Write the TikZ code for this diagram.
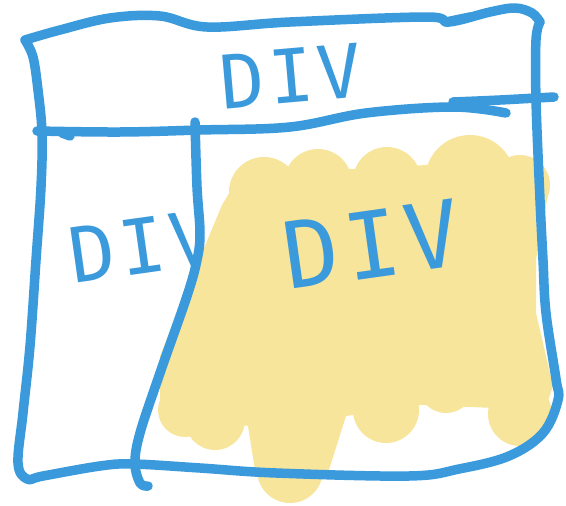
\documentclass[tikz,border=0pt]{standalone}
\usepackage{fontspec}
\newfontfamily\handfont[LetterSpace=6]{DejaVu Sans Mono}
\definecolor{sketchblue}{RGB}{58,154,219}
\definecolor{sketchyellow}{RGB}{248,229,156}
\begin{document}
\begin{tikzpicture}[x=1pt,y=-1pt,
  pen/.style={draw=sketchblue,line width=9.5pt,line cap=round,line join=round},
  blob/.style={fill=sketchyellow,draw=none},
  label/.style={text=sketchblue,font=\handfont,inner sep=0pt}]
\useasboundingbox (0,0) rectangle (566,506);
% yellow scribble
\fill[blob] (222,205) -- (240,175) -- (520,160) -- (549,190) -- (536,260) -- (536,313) -- (553,386) -- (545,410) -- (420,405) -- (346,416) -- (329,470) -- (255,470) -- (248,426) -- (160,410) -- (160,356) -- (187,289) -- cycle;
\fill[blob] (264,192) circle (35);
\fill[blob] (318,183) circle (34);
\fill[blob] (387,181) circle (34);
\fill[blob] (470,180) circle (45);
\fill[blob] (520,185) circle (30);
\fill[blob] (185,410) circle (27);
\fill[blob] (215,420) circle (30);
\fill[blob] (290,470) circle (33);
\fill[blob] (386,410) circle (33);
\fill[blob] (446,385) circle (28);
\fill[blob] (520,414) circle (32);
% labels
\node[label,font=\handfont\fontsize{74}{74}\selectfont,rotate=5] (top) at (291,76) {DIV};
\node[label,font=\handfont\fontsize{92}{92}\selectfont,rotate=8] (right) at (372,244) {DIV};
\begin{scope}
\clip (0,120) -- (197,120) -- (197,187) -- (200,233) -- (197,260) -- (187,296) -- (160,373) -- (0,373) -- cycle;
\node[label,font=\handfont\fontsize{76}{76}\selectfont,rotate=8] (left) at (142,246) {DIV};
\end{scope}
% outer frame
\draw[pen] plot[smooth,tension=0.6] coordinates {(25,40) (60,30) (110,18) (160,16) (207,27) (290,22) (426,17) (449,22) (490,12) (515,8) (532,13) (540,22)};
\draw[pen] (446,22) -- (470,17);
\draw[pen] plot[smooth,tension=0.6] coordinates {(25,40) (33,57) (38,90) (42,133) (41,187) (36,260) (30,346) (23,413) (18,463) (27,479) (43,476) (100,466) (133,464) (200,468) (276,473) (409,476) (459,469) (509,456) (543,433) (558,400) (556,379) (546,313) (543,260) (540,200) (536,100) (536,40) (540,22)};
% horizontal divider
\draw[pen] plot[smooth,tension=0.6] coordinates {(37,131) (120,132) (200,130) (290,127) (366,113) (453,107) (506,113)};
\draw[pen] (62,133) -- (70,136);
\draw[pen] plot[smooth,tension=0.6] coordinates {(453,102) (500,100) (554,97)};
% vertical divider
\draw[pen] plot[smooth,tension=0.6] coordinates {(195,122) (197,187) (200,233) (197,260) (187,296) (160,373) (140,433) (135,463) (140,483) (148,486)};
\end{tikzpicture}
\end{document}
